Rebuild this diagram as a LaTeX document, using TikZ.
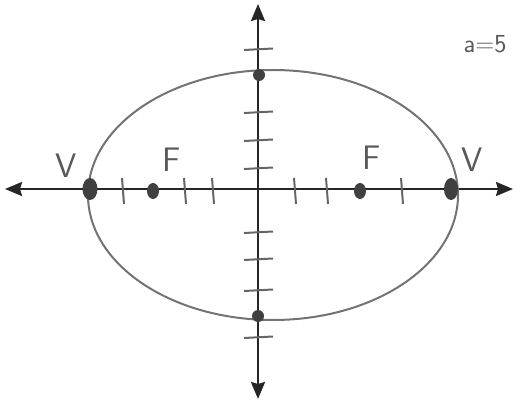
\documentclass[tikz,border=0pt]{standalone}
\usepackage{tikz}
\usetikzlibrary{arrows.meta, shapes.geometric}
\begin{document}
\begin{tikzpicture}[x=1pt, y=-1pt, >={Stealth[length=17pt,width=14pt,inset=2pt]},
  pt/.style={ellipse, fill=black!75, inner sep=0pt, minimum width=12pt, minimum height=16pt},
  tick/.style={black!60, line width=2pt},
  lbl/.style={black!65, font=\sffamily\fontsize{34}{34}\selectfont}]
\useasboundingbox (0,0) rectangle (516,403);
% axes
\coordinate (xl) at (5,189);
\coordinate (xr) at (513,189);
\coordinate (yt) at (258,4);
\coordinate (yb) at (258,399);
\draw[<->, line width=2.2pt, black!85] (xl) -- (xr);
\draw[<->, line width=2.2pt, black!85] (yb) -- (yt);
% ellipse
\draw[black!55, line width=2pt] (273,195) ellipse (185 and 125);
% ticks on x axis
\foreach \x in {123,185,213,295,327,402}
  \draw[tick] (\x-1,178) -- (\x+1,204);
% ticks on y axis
\foreach \y in {49,112,140,168,232,259,290,337}
  \draw[tick] (244,\y+1) -- (273,\y-0.5);
% points
\node[pt, minimum width=15pt, minimum height=22pt] (v1) at (90,189) {};
\node[pt, minimum width=14pt, minimum height=22pt] (v2) at (451,189) {};
\node[pt] (f1) at (153,191) {};
\node[pt] (f2) at (360,191) {};
\node[pt, minimum width=12pt, minimum height=12pt] (c1) at (259,75) {};
\node[pt, minimum width=12pt, minimum height=12pt] (c2) at (258,316) {};
% labels
\node[lbl] (lv1) at (66,166) {V};
\node[lbl] (lf1) at (172,160) {F};
\node[lbl] (lf2) at (372,158) {F};
\node[lbl] (lv2) at (472,160) {V};
\node[lbl, font=\sffamily\fontsize{26}{26}\selectfont] (la) at (485,44) {a=5};
\end{tikzpicture}
\end{document}
